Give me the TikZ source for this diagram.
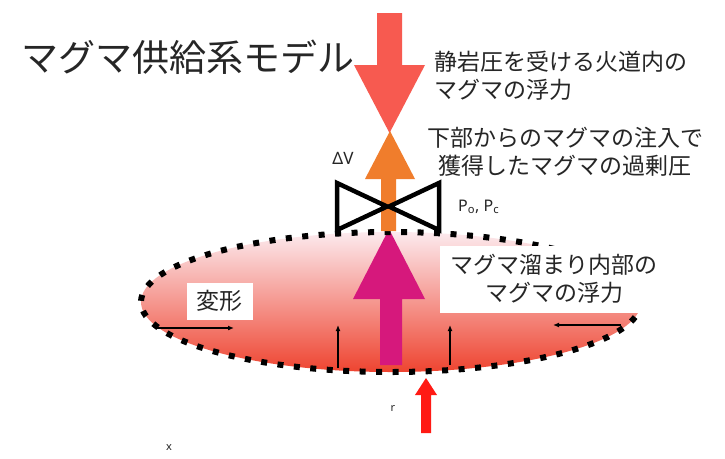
\documentclass[tikz,border=0pt]{standalone}
\usepackage{fontspec}
\setmainfont{Noto Sans CJK JP}
\newfontfamily\latinfont{Noto Sans}
\usetikzlibrary{arrows.meta}

\definecolor{downred}{HTML}{F75A50}
\definecolor{injorange}{HTML}{F07D2C}
\definecolor{buoymag}{HTML}{D6187C}
\definecolor{feedred}{HTML}{FF1A14}
\definecolor{chtop}{HTML}{FCEAEE}
\definecolor{chmid}{HTML}{F4A4AA}
\definecolor{chbot}{HTML}{EE4430}

\begin{document}
\begin{tikzpicture}[x=1pt,y=-1pt,
  jlabel/.style={font=\fontsize{23}{28}\selectfont, inner sep=0pt, text=black!85},
  smalllabel/.style={font=\latinfont\fontsize{16}{18}\selectfont, inner sep=0pt, text=black!85},
  thinarrow/.style={line width=2.2pt, -{Latex[length=6pt,width=5pt]}},
  valve/.style={draw=black, line width=4.5pt, fill=white, line join=miter},
  dotline/.style={draw=black, line width=6pt, dash pattern=on 6pt off 10.5pt}
]
\useasboundingbox (0,0) rectangle (725,458);
\fill[white] (0,0) rectangle (725,458);

% magma chamber body
\shade[top color=chtop, middle color=chmid, bottom color=chbot]
  (391,302) ellipse [x radius=250, y radius=70];

% buoyancy of magma inside the chamber
\fill[buoymag] (380,365) -- (380,299) -- (353,299) -- (389,229)
  -- (425,299) -- (402,299) -- (402,365) -- cycle;

% chamber outline
\draw[dotline] (391,302) ellipse [x radius=250, y radius=70];

% deformation arrows
\coordinate (hl0) at (157,328); \coordinate (hl1) at (234,328);
\coordinate (hr0) at (621,325); \coordinate (hr1) at (553,325);
\coordinate (vl0) at (338,368); \coordinate (vl1) at (338,325);
\coordinate (vr0) at (450,365); \coordinate (vr1) at (450,325);
\draw[thinarrow] (hl0) -- (hl1);
\draw[thinarrow] (hr0) -- (hr1);
\draw[thinarrow] (vl0) -- (vl1);
\draw[thinarrow] (vr0) -- (vr1);

% labels inside the chamber
\fill[white] (440,246) rectangle (650,313);
\node[jlabel, align=center] (chamberlabel) at (554,279)
  {マグマ溜まり内部の\\マグマの浮力};
\fill[white] (187,283) rectangle (253,320);
\node[jlabel] (deform) at (219,301) {変形};

% buoyancy of magma in the conduit under lithostatic pressure
\fill[downred] (377,13) -- (402,13) -- (402,65) -- (425,65) -- (389.5,133)
  -- (354,65) -- (377,65) -- cycle;

% overpressure from injection
\fill[injorange] (381,231) -- (381,179) -- (365,179) -- (390,131)
  -- (415,179) -- (396,179) -- (396,231) -- cycle;

% valve
\draw[valve] (337,183) -- (337,230) -- (387,206.5) -- cycle;
\draw[valve] (439,183) -- (439,230) -- (389,206.5) -- cycle;

% magma supply from below
\fill[feedred] (421,433) -- (421,395) -- (415,395) -- (426,378)
  -- (437,395) -- (431,395) -- (431,433) -- cycle;

% texts
\node[anchor=west, font=\fontsize{37}{40}\selectfont, inner sep=0pt, text=black!85]
  (title) at (21,57) {マグマ供給系モデル};
\node[jlabel, align=left, anchor=west] (conduit) at (434,76)
  {静岩圧を受ける火道内の\\マグマの浮力};
\node[jlabel, align=center] (inject) at (565,152)
  {下部からのマグマの注入で\\獲得したマグマの過剰圧};
\node[font=\latinfont\fontsize{17}{18}\selectfont, inner sep=0pt, text=black!85]
  (dv) at (343,158) {ΔV};
\node[smalllabel, anchor=west] (pressure) at (458,207)
  {P\textsubscript{o}, P\textsubscript{c}};
\node[font=\latinfont\fontsize{11}{12}\selectfont, inner sep=0pt, text=black!85]
  (r) at (393,408) {r};
\node[font=\latinfont\fontsize{11}{12}\selectfont, inner sep=0pt, text=black!85]
  (x) at (169,448) {x};
\end{tikzpicture}
\end{document}
